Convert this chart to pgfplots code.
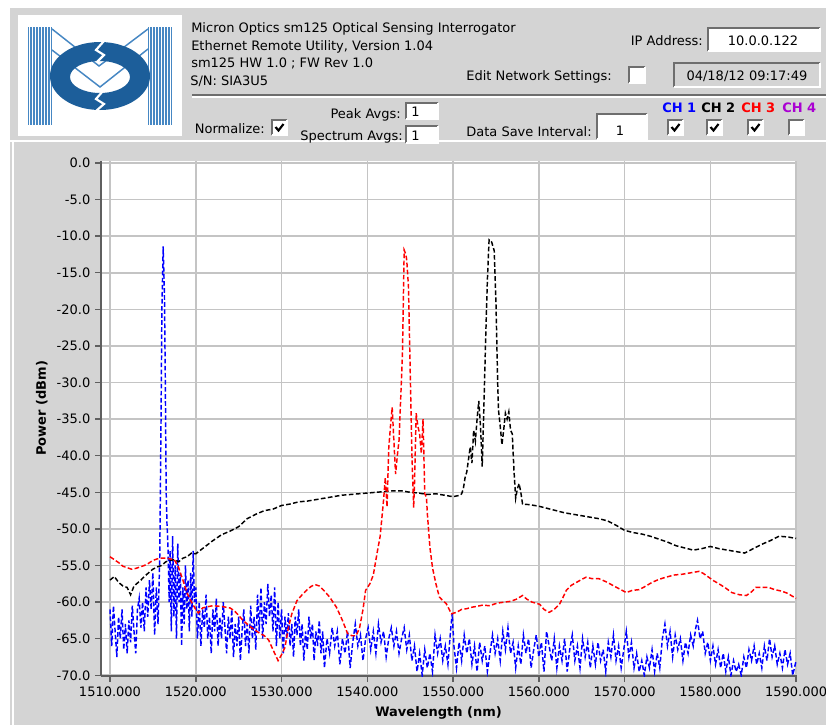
\documentclass[border=0pt]{standalone}
\usepackage{fontspec}
\setmainfont{DejaVu Sans}
\usepackage{pgfplots}
\pgfplotsset{compat=1.18}

\definecolor{panel}{RGB}{212,212,212}
\definecolor{gridc}{RGB}{196,196,196}
\definecolor{axc}{RGB}{95,95,95}
\definecolor{darkb}{RGB}{110,110,110}
\definecolor{logob}{RGB}{28,94,154}
\definecolor{stripe}{RGB}{70,135,195}
\definecolor{chpurple}{RGB}{170,0,210}

% sunken box, top-left (x,y), size (w,h), fill
\newcommand{\sunken}[5]{%
  \fill[#5] (#1,#2) rectangle ++(#3,#4);
  \draw[darkb, line width=0.9pt] (#1,#2+#4) -- (#1,#2) -- (#1+#3,#2);
  \draw[white, line width=0.9pt] (#1,#2+#4) -- (#1+#3,#2+#4) -- (#1+#3,#2);
}
\newcommand{\chk}[2]{%
  \sunken{#1}{#2}{15}{15}{white}
  \draw[black, line width=1.6pt] (#1+3.5,#2+7) -- (#1+6.5,#2+10.5) -- (#1+11.5,#2+4);
}

\begin{document}
\begin{tikzpicture}[font=\fontsize{9.75}{11}\selectfont]
\path[use as bounding box] (0,0) rectangle (619.5pt,-543.75pt);
\begin{scope}[x=0.75pt,y=-0.75pt]
\fill[white] (0,0) rectangle (826,725);
\fill[panel] (10,8) rectangle (826,725);
\draw[white, line width=1.5pt] (10,141) -- (826,141);
\draw[white, line width=1.5pt] (13,141) -- (13,725);

% logo
\fill[white] (18,15) rectangle (182,136);
\fill[stripe] (28,27) rectangle (52,125);
\fill[stripe] (148,27) rectangle (172,125);
\foreach \i in {0,...,7} {
  \draw[white, line width=0.6pt] (29.5+\i*3,27) -- (29.5+\i*3,125);
  \draw[white, line width=0.6pt] (149.5+\i*3,27) -- (149.5+\i*3,125);
}
\draw[stripe, line width=1.1pt] (52,29) -- (99,66) -- (148,29);
\draw[stripe, line width=1.1pt] (52,50) -- (100,87) -- (148,49);
\fill[logob, even odd rule] (100,76) ellipse [x radius=50, y radius=34]
  (100,77) ellipse [x radius=30, y radius=16];
\draw[white, line width=1.6pt] (104,41) -- (96,50) -- (104,55) -- (97,62);
\draw[white, line width=1.6pt] (103,91) -- (96,99) -- (104,104) -- (96,111);

% header text
\node[anchor=base west, inner sep=0] at (191,32) {Micron Optics sm125 Optical Sensing Interrogator};
\node[anchor=base west, inner sep=0] at (191,50) {Ethernet Remote Utility, Version 1.04};
\node[anchor=base west, inner sep=0] at (191,67) {sm125 HW 1.0 ; FW Rev 1.0};
\node[anchor=base west, inner sep=0] at (190,85) {S/N: SIA3U5};

\node[anchor=base east, inner sep=0] at (703,45) {IP Address:};
\sunken{708}{28}{112}{23}{white}
\node[anchor=base, inner sep=0] at (763,45) {10.0.0.122};

\node[anchor=base east, inner sep=0] at (612,80) {Edit Network Settings:};
\sunken{629}{67}{16}{16}{white}
\sunken{674}{63}{146}{24}{panel}
\node[anchor=base, inner sep=0] at (747,80) {04/18/12 09:17:49};

\draw[darkb, line width=1.2pt] (192,95) -- (826,95);
\draw[white, line width=1pt] (192,97) -- (826,97);

\node[anchor=base east, inner sep=0] at (265,133) {Normalize:};
\chk{272}{120}
\node[anchor=base east, inner sep=0] at (401,118) {Peak Avgs:};
\sunken{406}{103}{32}{16}{white}
\node[anchor=base west, inner sep=0] at (411,116) {1};
\node[anchor=base east, inner sep=0] at (403,140) {Spectrum Avgs:};
\sunken{406}{126}{32}{17}{white}
\node[anchor=base west, inner sep=0] at (411,140) {1};

\node[anchor=base east, inner sep=0] at (592,136) {Data Save Interval:};
\sunken{597}{114}{50}{25}{white}
\node[anchor=base, inner sep=0] at (620,135) {1};

\node[anchor=base west, inner sep=0, blue] at (662,112) {\bfseries CH 1};
\node[anchor=base west, inner sep=0, black] at (701,112) {\bfseries CH 2};
\node[anchor=base west, inner sep=0, red] at (741,112) {\bfseries CH 3};
\node[anchor=base west, inner sep=0, chpurple] at (782,112) {\bfseries CH 4};
\chk{668}{120}
\chk{707}{120}
\chk{748}{120}
\sunken{789}{120}{15}{15}{white}
\end{scope}

\begin{axis}[
  at={(75.75pt,-507pt)}, anchor=south west,
  scale only axis, width=522pt, height=386.25pt,
  xmin=1508.95, xmax=1590.1, ymin=-70.1, ymax=0.27,
  axis x line*=bottom, axis y line*=left,
  axis line style={draw=axc, line width=1.3pt, -},
  axis background/.style={fill=white},
  xtick={1510,1520,...,1590}, ytick={-70,-65,...,0},
  scaled ticks=false,
  tick align=outside, major tick length=4.5pt,
  tick style={draw=axc, line width=1.1pt},
  grid=major, grid style={draw=gridc, line width=1.2pt},
  /pgf/number format/assume math mode=true,
  ticklabel style={font=\fontsize{9.75}{11}\selectfont},
  xticklabel style={/pgf/number format/.cd, fixed, fixed zerofill, precision=3, 1000 sep={}},
  yticklabel style={/pgf/number format/.cd, fixed, fixed zerofill, precision=1},
  xlabel={\bfseries Wavelength (nm)}, ylabel={\bfseries Power (dBm)},
  every axis x label/.style={at={(axis description cs:0.485,-0.072)}, anchor=center},
  every axis y label/.style={at={(axis description cs:-0.085,0.52)}, rotate=90, anchor=center},
  every axis plot/.append style={line width=1.1pt, dash pattern=on 3.5pt off 1.8pt},
  clip=true,
]
% CH 1
\addplot[blue] coordinates {
(1510.0,-61) (1510.2,-66) (1510.4,-60.5) (1510.6,-64) (1510.8,-67.5) (1511.0,-62)
(1511.2,-65) (1511.4,-61) (1511.6,-66.5) (1511.8,-63) (1512.0,-67) (1512.2,-62.5)
(1512.4,-65.5) (1512.6,-60.5) (1512.8,-64) (1513.0,-67) (1513.2,-61) (1513.4,-59.5)
(1513.6,-63.5) (1513.8,-60) (1514.0,-64) (1514.2,-58) (1514.4,-62) (1514.6,-57)
(1514.8,-61) (1515.0,-56) (1515.2,-64.5) (1515.4,-58) (1515.6,-63) (1515.8,-54)
(1515.95,-35) (1516.05,-20) (1516.2,-11.4) (1516.35,-18) (1516.45,-30) (1516.55,-45)
(1516.65,-49.5) (1516.75,-52) (1516.9,-60) (1517.0,-53) (1517.15,-64) (1517.3,-51)
(1517.45,-62) (1517.6,-55) (1517.75,-65) (1517.9,-52) (1518.05,-60) (1518.2,-56)
(1518.35,-66) (1518.5,-58) (1518.65,-63) (1518.8,-55) (1518.95,-61) (1519.1,-57)
(1519.25,-64) (1519.4,-56) (1519.55,-62) (1519.7,-53) (1519.85,-60) (1520.0,-58)
(1520.2,-65) (1520.4,-60) (1520.6,-66) (1520.8,-61) (1521.0,-63.5) (1521.2,-59)
(1521.4,-65) (1521.6,-62) (1521.8,-67) (1522.0,-61) (1522.2,-64) (1522.4,-59.5)
(1522.6,-66) (1522.8,-62) (1523.0,-65) (1523.2,-60) (1523.4,-63.5) (1523.6,-67)
(1523.8,-62) (1524.0,-65) (1524.2,-61) (1524.4,-67.5) (1524.6,-63) (1524.8,-66)
(1525.0,-62) (1525.2,-68) (1525.4,-64) (1525.6,-61) (1525.8,-66) (1526.0,-63)
(1526.2,-67) (1526.4,-60.5) (1526.6,-65) (1526.8,-62) (1527.0,-66.5) (1527.2,-59)
(1527.4,-64) (1527.6,-58) (1527.8,-65) (1528.0,-60) (1528.2,-63) (1528.4,-57.5)
(1528.6,-62) (1528.8,-59) (1529.0,-64) (1529.2,-58) (1529.4,-66) (1529.6,-60)
(1529.8,-65) (1530.0,-61) (1530.2,-67) (1530.4,-62) (1530.6,-65) (1530.8,-61.5)
(1531.0,-66) (1531.2,-63) (1531.4,-67.5) (1531.6,-62) (1531.8,-64.5) (1532.0,-61)
(1532.2,-66) (1532.4,-63) (1532.6,-68) (1532.8,-64) (1533.0,-66.5) (1533.2,-62)
(1533.4,-65) (1533.6,-63) (1533.8,-68) (1534.0,-64) (1534.2,-66) (1534.4,-62.5)
(1534.6,-67) (1534.8,-64) (1535.0,-69) (1535.3,-65) (1535.6,-67) (1535.9,-63.5)
(1536.2,-66) (1536.5,-64) (1536.8,-68.5) (1537.1,-65) (1537.4,-67) (1537.7,-64)
(1538.0,-69) (1538.3,-65.5) (1538.6,-63) (1538.9,-66) (1539.2,-64.5) (1539.5,-68)
(1539.8,-65) (1540.1,-63.5) (1540.4,-66.5) (1540.7,-64) (1541.0,-67) (1541.3,-63)
(1541.6,-65.5) (1541.9,-64) (1542.2,-67.5) (1542.5,-65) (1542.8,-63.5) (1543.1,-66)
(1543.4,-64) (1543.7,-67) (1544.0,-65) (1544.3,-63.5) (1544.6,-66.5) (1544.9,-64.5)
(1545.2,-68) (1545.5,-66) (1545.8,-69.5) (1546.1,-67) (1546.4,-70) (1546.7,-66.5)
(1547.0,-69) (1547.3,-67) (1547.6,-69.5) (1547.9,-64.5) (1548.2,-67) (1548.5,-65)
(1548.8,-68) (1549.1,-66) (1549.4,-68.5) (1549.7,-64) (1549.9,-61.5) (1550.1,-66)
(1550.4,-69) (1550.7,-65.5) (1551.0,-68) (1551.3,-64.5) (1551.6,-67) (1551.9,-65)
(1552.2,-68.5) (1552.5,-66) (1552.8,-69.5) (1553.1,-65.5) (1553.4,-68) (1553.7,-66)
(1554.0,-69.5) (1554.3,-67) (1554.6,-64.5) (1554.9,-67) (1555.2,-65) (1555.5,-68)
(1555.8,-64) (1556.1,-66.5) (1556.4,-63.5) (1556.7,-67) (1557.0,-65.5) (1557.3,-69)
(1557.6,-66) (1557.9,-68.5) (1558.2,-64.5) (1558.5,-67) (1558.8,-65) (1559.1,-69)
(1559.4,-66.5) (1559.7,-64.5) (1560.0,-67.5) (1560.3,-65.5) (1560.6,-69.5) (1560.9,-64)
(1561.2,-66) (1561.5,-68) (1561.8,-65) (1562.1,-69) (1562.4,-66) (1562.7,-68)
(1563.0,-65) (1563.3,-69.5) (1563.6,-66.5) (1563.9,-64.5) (1564.2,-68) (1564.5,-66)
(1564.8,-69) (1565.1,-65) (1565.4,-67.5) (1565.7,-65.5) (1566.0,-69) (1566.3,-66)
(1566.6,-68.5) (1566.9,-65.5) (1567.2,-68) (1567.5,-66.5) (1567.8,-69.5) (1568.1,-65.5)
(1568.4,-67.5) (1568.7,-64.5) (1569.0,-68) (1569.3,-66) (1569.6,-69) (1569.9,-66.5)
(1570.2,-64) (1570.5,-67.5) (1570.8,-65.5) (1571.1,-69) (1571.4,-67) (1571.7,-69.5)
(1572.0,-68) (1572.3,-70) (1572.6,-67.5) (1572.9,-69) (1573.2,-66.5) (1573.5,-69.5)
(1573.8,-67) (1574.1,-69) (1574.4,-65) (1574.7,-63) (1575.0,-66) (1575.3,-64)
(1575.6,-67.5) (1575.9,-64.5) (1576.2,-66.5) (1576.5,-65) (1576.8,-68) (1577.1,-65.5)
(1577.4,-67) (1577.7,-64.5) (1578.0,-66) (1578.3,-63.5) (1578.5,-62.5) (1578.8,-65)
(1579.1,-64) (1579.4,-67) (1579.7,-65.5) (1580.0,-68) (1580.3,-66) (1580.6,-68.5)
(1580.9,-66.5) (1581.2,-69) (1581.5,-67) (1581.8,-69.5) (1582.1,-67.5) (1582.4,-70)
(1582.7,-68) (1583.0,-69.5) (1583.3,-68.5) (1583.6,-70) (1583.9,-67.5) (1584.2,-69)
(1584.5,-66.5) (1584.8,-68) (1585.1,-66) (1585.4,-68.5) (1585.7,-67) (1586.0,-69)
(1586.3,-66) (1586.6,-68) (1586.9,-65) (1587.2,-67.5) (1587.5,-66) (1587.8,-68.5)
(1588.1,-67) (1588.4,-69) (1588.7,-66.5) (1589.0,-68.5) (1589.3,-67) (1589.6,-70)
(1590.0,-68)
};
% CH 2
\addplot[black] coordinates {
(1510.0,-57) (1510.5,-56.5) (1511.0,-57.3) (1511.5,-57.8) (1512.0,-58) (1512.4,-59)
(1512.8,-57.8) (1513.2,-57.4) (1513.6,-57) (1514.0,-56.5) (1514.5,-56) (1515.0,-55.5)
(1515.5,-55.2) (1516.0,-55) (1516.5,-54.5) (1517.0,-54.3) (1517.5,-54.2) (1518.0,-54.5)
(1518.5,-54) (1519.0,-53.8) (1519.5,-53.3) (1520.0,-53.4) (1521.0,-52.5) (1522.0,-51.6)
(1523.0,-50.8) (1524.0,-50.3) (1525.0,-49.7) (1526.0,-48.6) (1527.0,-48) (1528.0,-47.5)
(1529.0,-47.3) (1530.0,-46.8) (1531.0,-46.6) (1532.0,-46.3) (1533.0,-46.2) (1534.0,-46)
(1535.0,-45.8) (1536.0,-45.6) (1537.0,-45.4) (1538.0,-45.3) (1539.0,-45.2) (1540.0,-45.1)
(1541.0,-45) (1542.0,-44.9) (1543.0,-44.8) (1544.0,-44.8) (1545.0,-45) (1546.0,-45.1)
(1547.0,-45.3) (1548.0,-45.2) (1549.0,-45.4) (1550.0,-45.6) (1550.8,-45.4) (1551.0,-45.2)
(1551.2,-44.5) (1551.4,-43) (1551.6,-42.2) (1551.8,-40.5) (1552.0,-38.8) (1552.2,-41)
(1552.4,-36.5) (1552.6,-38) (1552.8,-35) (1553.0,-32.5) (1553.2,-36) (1553.4,-41.5)
(1553.6,-33) (1553.8,-24) (1554.0,-16) (1554.2,-10.5) (1554.5,-10.8) (1554.8,-12)
(1555.0,-19) (1555.2,-30) (1555.3,-33.8) (1555.5,-36) (1555.7,-38.5) (1555.9,-36.5)
(1556.1,-34.2) (1556.3,-35) (1556.5,-34) (1556.7,-36.5) (1556.9,-37) (1557.1,-42)
(1557.3,-45.8) (1557.5,-44.5) (1557.7,-43.8) (1557.9,-45) (1558.1,-46.6) (1559.0,-46.7)
(1560.0,-46.9) (1561.0,-47.2) (1562.0,-47.5) (1563.0,-47.8) (1564.0,-48) (1565.0,-48.2)
(1566.0,-48.4) (1567.0,-48.6) (1568.0,-48.9) (1569.0,-49.5) (1570.0,-50.2) (1571.0,-50.5)
(1572.0,-50.7) (1573.0,-51) (1574.0,-51.4) (1575.0,-51.8) (1576.0,-52.3) (1577.0,-52.6)
(1578.0,-52.9) (1579.0,-52.7) (1580.0,-52.4) (1581.0,-52.7) (1582.0,-52.9) (1583.0,-53.1)
(1584.0,-53.3) (1585.0,-52.7) (1586.0,-52.1) (1587.0,-51.6) (1588.0,-51) (1589.0,-51.1)
(1590.0,-51.3)
};
% CH 3
\addplot[red] coordinates {
(1510.0,-53.8) (1510.5,-54.2) (1511.0,-54.6) (1511.5,-55.1) (1512.0,-55.3) (1512.5,-55.5)
(1513.0,-55.4) (1513.5,-55.2) (1514.0,-55) (1514.5,-54.7) (1515.0,-54.3) (1515.5,-54.1)
(1516.0,-54) (1516.5,-54) (1517.0,-54.1) (1517.5,-54.2) (1518.0,-55.3) (1518.5,-57)
(1519.0,-58.8) (1519.5,-60) (1520.0,-61) (1520.3,-61.5) (1520.8,-60.8) (1521.5,-60.6)
(1522.0,-60.5) (1523.0,-60.6) (1524.0,-60.8) (1524.5,-61.2) (1525.0,-61.8) (1525.5,-62.5)
(1526.0,-63) (1526.5,-63.5) (1527.0,-63.9) (1527.5,-64.3) (1528.0,-64.6) (1528.5,-65.2)
(1529.0,-66.5) (1529.6,-68) (1530.0,-67.2) (1530.4,-66.2) (1530.8,-63.5) (1531.2,-61.6)
(1531.8,-59.8) (1532.4,-59) (1532.9,-58.4) (1533.4,-57.9) (1533.9,-57.6) (1534.4,-57.8)
(1535.0,-58.5) (1535.6,-59.3) (1536.0,-60) (1536.4,-60.7) (1537.1,-62.5) (1537.7,-64.3)
(1538.2,-64.6) (1538.7,-64.6) (1539.1,-63.5) (1539.5,-61) (1539.8,-58.4) (1540.3,-57.5)
(1540.7,-56.3) (1541.2,-52.9) (1541.5,-51) (1541.7,-48.5) (1541.9,-46) (1542.1,-43)
(1542.3,-47) (1542.5,-39) (1542.7,-36) (1542.9,-33.4) (1543.1,-38) (1543.3,-42.5)
(1543.5,-40) (1543.7,-37.9) (1543.9,-32) (1544.1,-26) (1544.3,-11.9) (1544.5,-12.5)
(1544.6,-13.3) (1544.8,-16.9) (1545.0,-28.3) (1545.2,-39.7) (1545.4,-47.1) (1545.5,-44)
(1545.7,-34.2) (1545.9,-36) (1546.1,-37) (1546.3,-39.7) (1546.5,-35) (1546.7,-45.2)
(1546.9,-45.7) (1547.0,-47.9) (1547.3,-52.5) (1547.6,-55.3) (1548.0,-57.5) (1548.4,-59.3)
(1548.8,-59.8) (1549.2,-60.2) (1549.8,-61.6) (1550.4,-61.4) (1551.0,-61) (1551.6,-60.9)
(1552.2,-60.7) (1552.7,-60.6) (1553.5,-60.4) (1554.2,-60.5) (1555.0,-60.2) (1555.4,-60.1)
(1556.0,-60) (1556.7,-59.9) (1557.4,-59.6) (1558.1,-59.1) (1558.6,-59.6) (1559.2,-60)
(1560.1,-60.3) (1560.6,-61) (1561.2,-61.4) (1561.8,-61) (1562.4,-60.3) (1562.8,-59.4)
(1563.2,-58.4) (1563.8,-57.7) (1564.4,-57.3) (1565.0,-56.9) (1565.5,-56.6) (1566.2,-56.8)
(1567.0,-56.8) (1567.8,-57.2) (1568.6,-57.7) (1569.4,-58.2) (1570.2,-58.7) (1570.9,-58.4)
(1571.7,-58.3) (1572.5,-57.8) (1573.2,-57.3) (1574.0,-56.9) (1574.8,-56.6) (1575.8,-56.3)
(1576.7,-56.2) (1577.7,-56) (1578.7,-55.8) (1579.2,-56.1) (1579.8,-56.6) (1580.4,-57.1)
(1581.0,-57.5) (1581.8,-58.1) (1582.5,-58.7) (1583.4,-59) (1584.2,-59.1) (1584.8,-58.6)
(1585.3,-58) (1586.0,-58) (1586.8,-58) (1587.5,-58.3) (1588.3,-58.5) (1589.0,-58.8)
(1590.0,-59.5)
};
\end{axis}
\end{tikzpicture}
\end{document}
